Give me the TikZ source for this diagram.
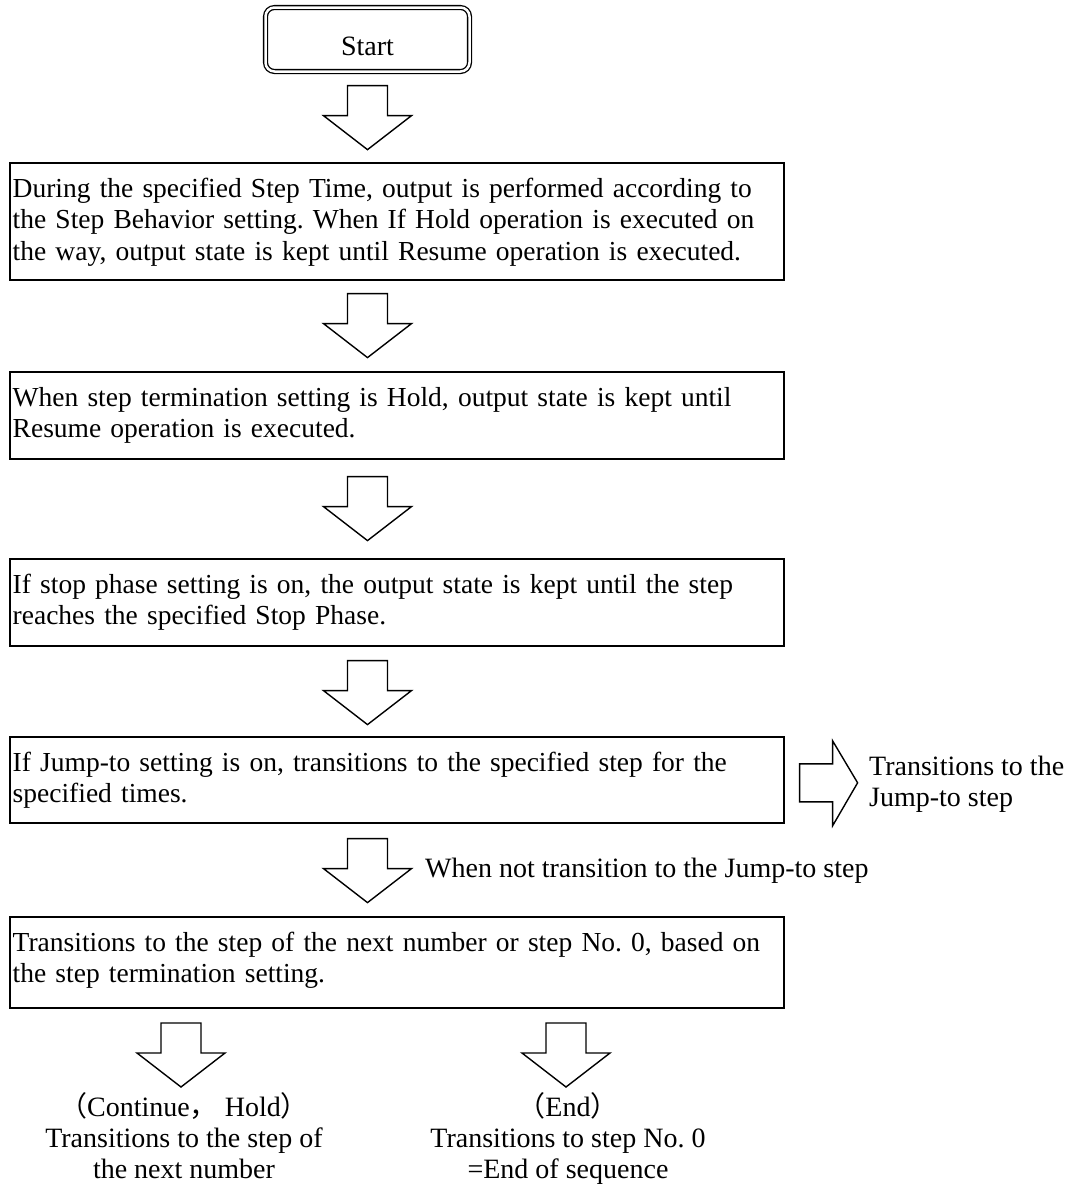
\documentclass[tikz,border=0pt]{standalone}
\usepackage{fontspec}
\setmainfont{Liberation Serif}
\newfontfamily\cjkfont{Noto Sans CJK JP}
\frenchspacing
\begin{document}
\begin{tikzpicture}[x=1pt,y=-1pt,
  txt/.style={font=\fontsize{28}{31}\selectfont, inner sep=0pt},
  flowbox/.style={draw, line width=1.6pt, minimum width=774pt, inner sep=0pt, anchor=north west},
  boxtext/.style={text width=767pt, align=left, inner sep=0pt, anchor=north west,
    font=\fontsize{27.5}{31.5}\selectfont},
  blockarrow/.style={draw, line width=1.4pt, line join=miter},
  dnarrow/.pic={\draw[blockarrow] (-20,0) -- (20,0) -- (20,30) -- (44,30) -- (0,64) -- (-44,30) -- (-20,30) -- cycle;},
]
\useasboundingbox (0,0) rectangle (1070,1189);

\node[draw, double, double distance=2.5pt, line width=1.3pt, rounded corners=9pt,
  minimum width=204pt, minimum height=64pt, txt, text height=31pt, text depth=0pt]
  (start) at (367.5,39.5) {Start};

\node[flowbox, minimum height=117pt] (b1) at (9,162) {};
\node[flowbox, minimum height=87pt] (b2) at (9,371) {};
\node[flowbox, minimum height=87pt] (b3) at (9,558) {};
\node[flowbox, minimum height=86pt] (b4) at (9,736) {};
\node[flowbox, minimum height=91pt] (b5) at (9,916) {};

\node[boxtext] (t1) at ([xshift=3.5pt,yshift=-12.95pt]b1.north west)
  {\strut During the specified Step Time, output is performed according to\\
   the Step Behavior setting. When If Hold operation is executed on\\
   the way, output state is kept until Resume operation is executed.};
\node[boxtext] (t2) at ([xshift=3.5pt,yshift=-12.95pt]b2.north west)
  {\strut When step termination setting is Hold, output state is kept until\\
   Resume operation is executed.};
\node[boxtext] (t3) at ([xshift=3.5pt,yshift=-12.95pt]b3.north west)
  {\strut If stop phase setting is on, the output state is kept until the step\\
   reaches the specified Stop Phase.};
\node[boxtext] (t4) at ([xshift=3.5pt,yshift=-12.95pt]b4.north west)
  {\strut If Jump-to setting is on, transitions to the specified step for the\\
   specified times.};
\node[boxtext] (t5) at ([xshift=3.5pt,yshift=-12.95pt]b5.north west)
  {\strut Transitions to the step of the next number or step No. 0, based on\\
   the step termination setting.};

% block arrows between boxes
\path (start.south) ++(0,13.5) pic {dnarrow};
\path (b1.south -| start.south) ++(0,13) pic {dnarrow};
\path (b2.south -| start.south) ++(0,17) pic {dnarrow};
\path (b3.south -| start.south) ++(0,14) pic {dnarrow};
\path (b4.south -| start.south) ++(0,15) pic {dnarrow};

% side arrow
\begin{scope}[shift={(b4.east)}]
  \draw[blockarrow] (15,-16) -- (48,-16) -- (48,-39) -- (73,3) -- (48,46) -- (48,22) -- (15,22) -- cycle;
\end{scope}
\node[txt, anchor=north west, align=left] (jumplbl) at (869,756)
  {Transitions to the\\Jump-to step};
\node[txt, anchor=base west] (notlbl) at (425,877)
  {When not transition to the Jump-to step};

% bottom branches
\coordinate (la) at (181,1023);
\coordinate (ra) at (566,1023);
\path (la) pic {dnarrow};
\path (ra) pic {dnarrow};
\node[txt, anchor=base] (contlbl) at (184,1116)
  {{\cjkfont （}Continue{\cjkfont ，} Hold{\cjkfont ）}};
\node[txt, anchor=base] (contnext1) at (184,1147.5) {Transitions to the step of};
\node[txt, anchor=base] (contnext2) at (184,1178) {the next number};
\node[txt, anchor=base] (endlbl) at (568,1116) {{\cjkfont （}End{\cjkfont ）}};
\node[txt, anchor=base] (endnext1) at (568,1147.5) {Transitions to step No. 0};
\node[txt, anchor=base] (endnext2) at (568,1178) {=End of sequence};
\end{tikzpicture}
\end{document}
